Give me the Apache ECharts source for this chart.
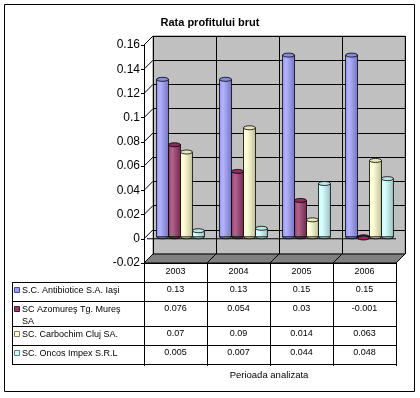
<!DOCTYPE html>
<html>
<head>
<meta charset="utf-8">
<script src="https://cdn.jsdelivr.net/npm/echarts@6/dist/echarts.min.js"></script>
<style>
  html, body { margin: 0; padding: 0; background: #fff; }
  #main { width: 420px; height: 398px; }
</style>
</head>
<body>
<div id="main"></div>
<script>
// categorii si serii
const categories = ['2003', '2004', '2005', '2006'];
const seriesNames = ['S.C. Antibiotice S.A. Iaşi', 'SC Azomureş Tg. Mureş SA', 'SC. Carbochim Cluj SA.', 'SC. Oncos Impex S.R.L'];
const rowLabels = ['S.C. Antibiotice S.A. Iaşi', 'SC Azomureş Tg. Mureş\nSA', 'SC. Carbochim Cluj SA.', 'SC. Oncos Impex S.R.L'];
const antibiotice = [0.13, 0.13, 0.15, 0.15];
const azomures = [0.076, 0.054, 0.03, -0.001];
const carbochim = [0.07, 0.09, 0.014, 0.063];
const oncos = [0.005, 0.007, 0.044, 0.048];
const yMin = -0.02, yMax = 0.16, yStep = 0.02;

const allValues = [antibiotice, azomures, carbochim, oncos];
const colors = ['#9999FF', '#993366', '#FFFFCC', '#CCFFFF'];

const D = 9;          // adancimea 3D (px)
const BAR_RATIO = 0.19;
const BAR_DX = 5, BAR_DY = 2;

function shade(hex, f) {
  const n = parseInt(hex.slice(1), 16);
  let r = n >> 16, g = (n >> 8) & 255, b = n & 255;
  if (f > 0) { r += (255 - r) * f; g += (255 - g) * f; b += (255 - b) * f; }
  else { r *= 1 + f; g *= 1 + f; b *= 1 + f; }
  return 'rgb(' + Math.round(r) + ',' + Math.round(g) + ',' + Math.round(b) + ')';
}

// coloane cilindrice
function cylinder(j) {
  return function (params, api) {
    const cat = api.value(0), v = api.value(1);
    const band = api.size([1, 0])[0];
    const w = band * BAR_RATIO;
    const p = api.coord([cat, v]), b = api.coord([cat, 0]);
    const cx = p[0] + BAR_DX + (j - 1.5) * w;
    const ty = p[1] - BAR_DY, by = b[1] - BAR_DY;
    const c = colors[j];
    const grad = new echarts.graphic.LinearGradient(0, 0, 1, 0, [
      { offset: 0, color: c },
      { offset: 0.3, color: shade(c, 0.25) },
      { offset: 1, color: shade(c, -0.25) }
    ]);
    return {
      type: 'group',
      children: [
        { type: 'ellipse', shape: { cx: cx, cy: by, rx: w / 2, ry: 2 }, style: { fill: shade(c, -0.25), stroke: '#000', lineWidth: 0.8 } },
        { type: 'rect', shape: { x: cx - w / 2, y: Math.min(ty, by), width: w, height: Math.abs(by - ty) }, style: { fill: grad, stroke: '#000', lineWidth: 0.8 } },
        { type: 'ellipse', shape: { cx: cx, cy: ty, rx: w / 2, ry: 2 }, style: { fill: shade(c, -0.1), stroke: '#000', lineWidth: 0.8 } }
      ]
    };
  };
}

// podeaua, peretele lateral si linia de zero
function frame(params, api) {
  const band = api.size([1, 0])[0];
  const left = api.coord([0, 0])[0] - band / 2;
  const right = api.coord([categories.length - 1, 0])[0] + band / 2;
  const yb = api.coord([0, yMin])[1];
  const y0 = api.coord([0, 0])[1];
  const line = { stroke: '#000', lineWidth: 1 };
  const children = [
    { type: 'polygon', shape: { points: [[left, yb], [right, yb], [right + D, yb - D], [left + D, yb - D]] }, style: { fill: '#808080', stroke: '#000', lineWidth: 1 } },
    { type: 'line', shape: { x1: left + 3, y1: y0, x2: right, y2: y0 }, style: line }
  ];
  for (let k = 0; k <= categories.length; k++) {
    const x = left + k * band;
    children.push({ type: 'line', shape: { x1: x, y1: yb, x2: x + D, y2: yb - D }, style: line });
  }
  for (let t = yMin; t <= yMax + 1e-9; t += yStep) {
    const y = api.coord([0, t])[1];
    children.push({ type: 'line', shape: { x1: left, y1: y, x2: left + D, y2: y - D }, style: line });
  }
  return { type: 'group', children: children };
}

// tabelul de date
const tabLeft = 12, colLeft = 144, colW = 63;
const rowTops = [263, 282, 301, 326, 345, 364];
const tabRight = colLeft + colW * categories.length;
const font = 'Arial, "Liberation Sans", sans-serif';
const graphics = [
  { type: 'rect', shape: { x: 4.5, y: 4.5, width: 410, height: 387 }, style: { fill: 'none', stroke: '#000', lineWidth: 1 }, z: 10 }
];
const tl = { stroke: '#000', lineWidth: 1 };
graphics.push({ type: 'line', shape: { x1: colLeft, y1: rowTops[0] + 0.5, x2: tabRight, y2: rowTops[0] + 0.5 }, style: tl, z: 10 });
for (let r = 1; r < rowTops.length; r++) {
  graphics.push({ type: 'line', shape: { x1: tabLeft, y1: rowTops[r] + 0.5, x2: tabRight, y2: rowTops[r] + 0.5 }, style: tl, z: 10 });
}
graphics.push({ type: 'line', shape: { x1: tabLeft + 0.5, y1: rowTops[1], x2: tabLeft + 0.5, y2: rowTops[5] }, style: tl, z: 10 });
for (let k = 0; k <= categories.length; k++) {
  const x = colLeft + k * colW + 0.5;
  graphics.push({ type: 'line', shape: { x1: x, y1: rowTops[0], x2: x, y2: rowTops[5] + 2 }, style: tl, z: 10 });
}
categories.forEach(function (c, k) {
  graphics.push({ type: 'text', x: colLeft + k * colW + colW / 2, y: rowTops[0] + 4, z: 10,
    style: { text: c, font: '9px ' + font, fill: '#000', textAlign: 'center', textVerticalAlign: 'top' } });
});
allValues.forEach(function (vals, j) {
  const top = rowTops[j + 1] + 3;
  graphics.push({ type: 'rect', shape: { x: 14.5, y: top + 2.5, width: 5, height: 5 }, z: 10,
    style: { fill: colors[j], stroke: shade(colors[j], -0.5), lineWidth: 1 } });
  graphics.push({ type: 'text', x: 22, y: top, z: 10,
    style: { text: rowLabels[j], font: '9px ' + font, fill: '#000', textAlign: 'left', textVerticalAlign: 'top', lineHeight: 12 } });
  vals.forEach(function (v, k) {
    graphics.push({ type: 'text', x: colLeft + k * colW + colW / 2, y: top, z: 10,
      style: { text: String(v), font: '9px ' + font, fill: '#000', textAlign: 'center', textVerticalAlign: 'top' } });
  });
});
graphics.push({ type: 'text', x: 269, y: 375, z: 10,
  style: { text: 'Perioada analizata', font: '9.5px ' + font, fill: '#000', textAlign: 'center', textVerticalAlign: 'middle' } });

const chart = echarts.init(document.getElementById('main'));
const option = {
  backgroundColor: '#fff',
  animation: false,
  title: {
    text: 'Rata profitului brut',
    left: 'center', top: 12,
    textStyle: { fontFamily: font, fontSize: 11, fontWeight: 'bold', color: '#000' }
  },
  grid: [
    { left: colLeft + D, top: 45 - D, width: colW * 4, height: 218, show: true, backgroundColor: '#C0C0C0', borderColor: '#808080', borderWidth: 1 },
    { left: colLeft, top: 45, width: colW * 4, height: 218 }
  ],
  xAxis: [
    { type: 'category', gridIndex: 0, data: categories, axisLine: { show: false }, axisTick: { show: false }, axisLabel: { show: false },
      splitLine: { show: true, lineStyle: { color: '#000', width: 1 } } },
    { type: 'category', gridIndex: 1, data: categories, show: false }
  ],
  yAxis: [
    { type: 'value', gridIndex: 0, min: yMin, max: yMax, interval: yStep, axisLine: { show: false }, axisTick: { show: false }, axisLabel: { show: false },
      splitLine: { show: true, lineStyle: { color: '#000', width: 1 } } },
    { type: 'value', gridIndex: 1, min: yMin, max: yMax, interval: yStep,
      axisLine: { show: true, lineStyle: { color: '#000', width: 1 } },
      axisTick: { show: true, length: 3, lineStyle: { color: '#000' } },
      axisLabel: { color: '#000', fontFamily: font, fontSize: 12, margin: 4 },
      splitLine: { show: false } }
  ],
  series: [
    { type: 'custom', xAxisIndex: 1, yAxisIndex: 1, renderItem: frame, data: [[0, 0]], z: 1, silent: true }
  ].concat(allValues.map(function (vals, j) {
    return {
      type: 'custom', name: seriesNames[j], xAxisIndex: 1, yAxisIndex: 1, z: 3,
      renderItem: cylinder(j),
      data: vals.map(function (v, k) { return [k, v]; })
    };
  })),
  graphic: graphics
};
chart.setOption(option);
</script>
</body>
</html>
